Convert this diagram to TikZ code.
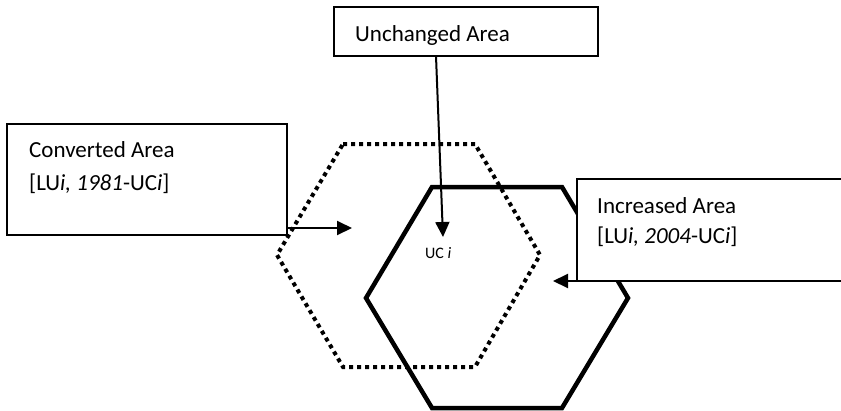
\documentclass[tikz,border=0pt]{standalone}
\usepackage{fontspec}
\setmainfont{Carlito}
\usetikzlibrary{arrows.meta,calc}
\usepackage{xcolor}

\begin{document}
\begin{tikzpicture}
    [x=1pt, y=-1pt,
     >={Triangle[length=15pt, width=14pt]},  % Uniform arrow style
     area_box/.style={draw=black, line width=1.5pt, fill=white, inner sep=0pt, outer sep=0pt, anchor=north west},
     area_text/.style={inner sep=0pt, anchor=base west, font=\fontsize{23}{28}\selectfont},
     pointer/.style={->, line width=2pt},
    ]
\useasboundingbox (0,0) rectangle (841,410);

% cell in 1981 (dotted) and in 2004 (solid)
\draw[line width=4pt, dash pattern=on 4pt off 4pt] (343,144) -- (475,144) -- (540,255) -- (475,367) -- (343,367) -- (277,255) -- cycle;
\draw[line width=4.5pt, line join=miter] (432,187) -- (562,187) -- (628,298) -- (562,408) -- (432,408) -- (366,298) -- cycle;

\node[area_box, minimum width=280pt, minimum height=111pt] (node_conv) at (7,124) {};
\node[area_box, minimum width=280pt, minimum height=102pt] (node_inc) at (577,179) {};
\node[area_box, minimum width=264pt, minimum height=49pt] (node_unch) at (334,7) {};

\node[area_text] (node_conv_a) at (29,157) {Converted Area};
\node[area_text] (node_conv_b) at (29,190) {[LU\textit{i, 1981}-UC\textit{i}]};
\node[area_text] (node_inc_a) at (597,213) {Increased Area};
\node[area_text] (node_inc_b) at (597,243) {[LU\textit{i, 2004}-UC\textit{i}]};
\node[area_text] (node_unch_a) at (355,41) {Unchanged Area};
\node[area_text, font=\fontsize{16}{19}\selectfont] (node_uc) at (425,258) {UC \textit{i}};

\coordinate (tip_unch) at (443,237);
\coordinate (tip_conv) at (352,228);
\coordinate (tip_inc) at (553,281);
\draw[pointer] ($(node_unch.south west)+(102,0)$) -- (tip_unch);
\draw[pointer] ($(node_conv.south east)+(0,-7)$) -- (tip_conv);
\draw[pointer] (node_inc.south west) -- (tip_inc);

\end{tikzpicture}
\end{document}
